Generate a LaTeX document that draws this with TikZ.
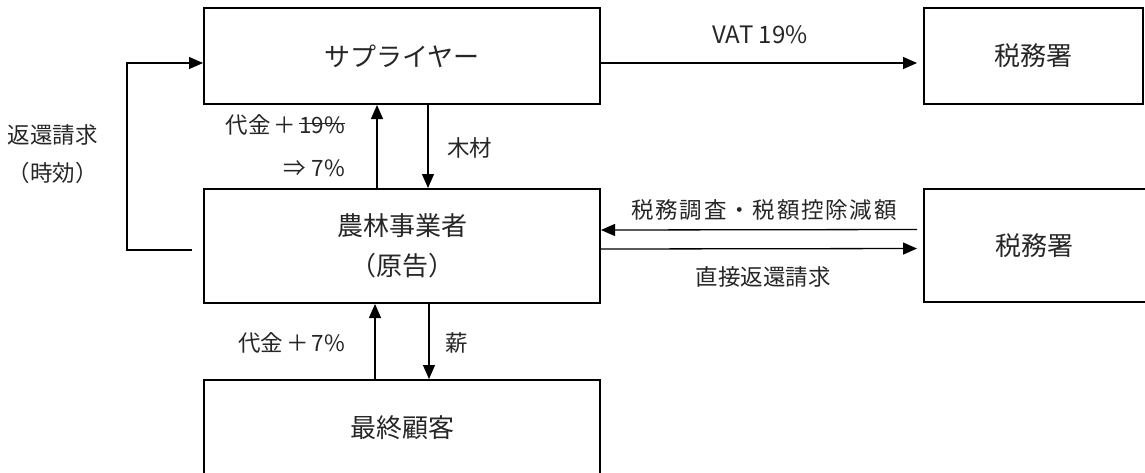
\documentclass[tikz,border=0pt]{standalone}
\usepackage{fontspec}
\setmainfont{Noto Sans CJK JP}
\usetikzlibrary{arrows.meta}
\newcommand{\strikeout}[1]{{\sbox0{#1}\rlap{\rule[0.42em]{\wd0}{0.9pt}}\usebox0}}
\begin{document}
\begin{tikzpicture}[x=1pt,y=-1pt,
  box/.style={draw=black,line width=2pt,rectangle,inner sep=0pt,font=\fontsize{26}{40}\selectfont,text=black!85,align=center},
  lbl/.style={inner sep=0pt,font=\fontsize{22.5}{42}\selectfont,text=black!85},
  arr/.style={line width=1.3pt,-{Triangle[length=14pt,width=12pt]}},
  ln/.style={line width=1.3pt}]
\useasboundingbox (0,0) rectangle (1145,472);
\node[box,minimum width=396pt,minimum height=96pt] (sup) at (402,56) {サプライヤー};
\node[box,minimum width=219pt,minimum height=96pt] (tax1) at (1033.5,56) {税務署};
\node[box,minimum width=396pt,minimum height=114pt] (farm) at (402,246) {農林事業者\\（原告）};
\node[box,minimum width=222pt,minimum height=113pt] (tax2) at (1035,245.5) {};
\node[lbl,font=\fontsize{26}{40}\selectfont] (tax2t) at (1034,246) {税務署};
\node[box,minimum width=396pt,minimum height=96pt] (cust) at (402,428) {最終顧客};
% supplier <-> farmer
\draw[arr] ([xshift=-25pt]farm.north) -- ([xshift=-25pt]sup.south);
\draw[arr] ([xshift=26pt]sup.south) -- ([xshift=26pt]farm.north);
% farmer <-> customer
\draw[arr] ([xshift=-27pt]cust.north) -- ([xshift=-27pt]farm.south);
\draw[arr] ([xshift=27pt]farm.south) -- ([xshift=27pt]cust.north);
% left loop
\draw[arr] ([xshift=-11pt,yshift=-4pt]farm.west) -- ++(-65,0) |- ([yshift=-7pt]sup.west);
% VAT
\draw[arr,shorten >=6pt] ([yshift=-7pt]sup.east) -- ([yshift=-7pt]tax1.west);
% tax office <-> farmer
\draw[arr] ([xshift=-6pt,yshift=16pt]tax2.west) -- ([yshift=16pt]farm.east);
\draw[arr,shorten >=6pt] ([yshift=-3pt]farm.east) -- ([yshift=-3pt]tax2.west);
% labels
\node[lbl,font=\fontsize{24}{40}\selectfont] (vat) at (760,35) {VAT 19\%};
\node[lbl] (ref1) at (53,135) {返還請求};
\node[lbl] (ref2) at (53,173) {（時効）};
\node[lbl,anchor=east] (pay1) at (345,125) {代金\hspace{3pt}＋\hspace{3pt}\strikeout{19\%}};
\node[lbl,anchor=east] (pay1b) at (345,168) {⇒\hspace{6pt}7\%};
\node[lbl,anchor=west] (wood) at (447,148) {木材};
\node[lbl,anchor=east] (pay2) at (345,343) {代金\hspace{3pt}＋\hspace{3pt}7\%};
\node[lbl,anchor=west] (fire) at (445,343) {薪};
\node[lbl] (audit) at (764,210) {\addfontfeature{LetterSpace=8}税務調査・税額控除減額};
\node[lbl] (direct) at (763,277) {直接返還請求};
\end{tikzpicture}
\end{document}
